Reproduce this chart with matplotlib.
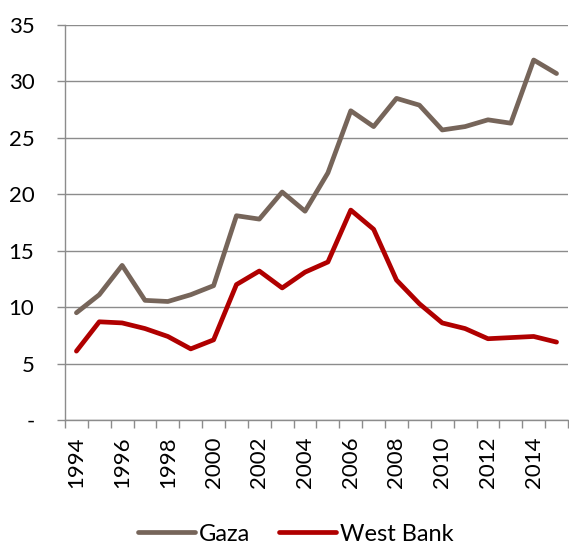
import matplotlib.pyplot as plt
import numpy as np

plt.rcParams['font.family'] = ['Lato', 'DejaVu Sans']

years = list(range(1994, 2016))
gaza = [9.5, 11.1, 13.7, 10.6, 10.5, 11.1, 11.9, 18.1, 17.8, 20.2, 18.5,
        21.9, 27.4, 26.0, 28.5, 27.9, 25.7, 26.0, 26.6, 26.3, 31.9, 30.7]
west_bank = [6.1, 8.7, 8.6, 8.1, 7.4, 6.3, 7.1, 12.0, 13.2, 11.7, 13.1,
             14.0, 18.6, 16.9, 12.4, 10.3, 8.6, 8.1, 7.2, 7.3, 7.4, 6.9]
y_ticks = [0, 5, 10, 15, 20, 25, 30, 35]
y_labels = ['-', '5', '10', '15', '20', '25', '30', '35']

grid_col = '#8c8c8c'

fig = plt.figure(figsize=(5.69, 5.44), dpi=100)
ax = fig.add_axes([0.1142, 0.228, 0.884, 0.726])

x = np.arange(len(years))
ax.plot(x, gaza, color='#76655a', lw=3.4, label='Gaza', solid_capstyle='round')
ax.plot(x, west_bank, color='#b00000', lw=3.4, label='West Bank', solid_capstyle='round')

ax.set_xlim(-0.5, len(years) - 0.5)
ax.set_ylim(0, 35)
ax.set_yticks(y_ticks)
ax.set_yticklabels(y_labels)
ax.yaxis.grid(True, color=grid_col, lw=1.0)
ax.set_axisbelow(True)

# labels at every other category, tick marks at category boundaries
ax.set_xticks(x[::2])
ax.set_xticklabels([str(y) for y in years[::2]], rotation=90)
ax.set_xticks(np.arange(-0.5, len(years)), minor=True)
ax.tick_params(axis='x', which='major', length=0, pad=12, labelsize=16)
ax.tick_params(axis='x', which='minor', length=6, color=grid_col, width=1.0, direction='out')
ax.tick_params(axis='y', length=6, color=grid_col, width=1.0, pad=16, labelsize=16)

for s in ['top', 'right']:
    ax.spines[s].set_visible(False)
for s in ['left', 'bottom']:
    ax.spines[s].set_color(grid_col)
    ax.spines[s].set_linewidth(1.0)

fig.legend(loc='lower center', bbox_to_anchor=(0.52, -0.04), ncol=2, frameon=False,
           fontsize=17, handlelength=2.4, handletextpad=0.2, columnspacing=1.2)

fig.savefig('out.png', dpi=100)
